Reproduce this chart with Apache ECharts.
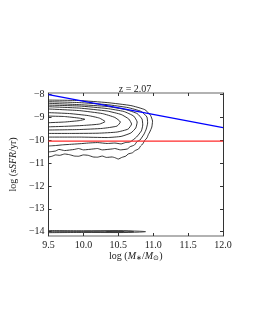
<!DOCTYPE html>
<html><head><meta charset="utf-8">
<script src="https://cdn.jsdelivr.net/npm/echarts@6/dist/echarts.min.js"></script>
<style>html,body{margin:0;padding:0;background:#fff}#c{width:255px;height:330px}</style>
</head><body><div id="c"></div>
<script>
var titleText = 'z = 2.07';
var xTicks = [9.5, 10.0, 10.5, 11.0, 11.5, 12.0];
var yTicks = [-14, -13, -12, -11, -10, -9, -8];
var blueLine = [[9.5, -8.0], [12.0, -9.45]];
var redLine = [[9.5, -10.04], [12.0, -10.04]];
var contour1 = [[9.5,-8.94],[9.73,-8.96],[9.94,-9.03],[10.02,-9.08],[9.94,-9.14],[9.73,-9.20],[9.5,-9.23]];
var contour2 = [[9.5,-8.79],[9.80,-8.83],[10.07,-8.92],[10.23,-9.03],[10.31,-9.18],[10.23,-9.29],[10.0,-9.35],[9.73,-9.39],[9.5,-9.41]];
var contour3 = [[9.5,-8.63],[9.94,-8.70],[10.27,-8.83],[10.45,-9.0],[10.53,-9.2],[10.48,-9.38],[10.27,-9.48],[9.94,-9.53],[9.5,-9.55]];
var contour4 = [[9.5,-8.53],[9.94,-8.59],[10.34,-8.72],[10.54,-8.87],[10.65,-9.07],[10.69,-9.29],[10.64,-9.51],[10.48,-9.64],[10.21,-9.69],[9.80,-9.70],[9.5,-9.70]];
var contour5 = [[9.5,-8.46],[9.94,-8.50],[10.34,-8.61],[10.58,-8.74],[10.72,-8.94],[10.77,-9.2],[10.75,-9.46],[10.68,-9.68],[10.54,-9.83],[10.34,-9.88],[9.94,-9.86],[9.5,-9.86]];
var contour6 = [[9.5,-8.38],[9.94,-8.44],[10.34,-8.52],[10.61,-8.66],[10.77,-8.83],[10.84,-9.07],[10.85,-9.33],[10.83,-9.59],[10.76,-9.86],[10.67,-10.07],[10.6,-10.1],[10.54,-10.16],[10.45,-10.12],[10.34,-10.14],[10.2,-10.1],[10.07,-10.12],[9.95,-10.15],[9.80,-10.18],[9.7,-10.2],[9.60,-10.23],[9.5,-10.25]];
var contour7 = [[9.5,-8.31],[9.94,-8.35],[10.34,-8.44],[10.64,-8.57],[10.83,-8.74],[10.91,-8.98],[10.92,-9.24],[10.90,-9.51],[10.87,-9.72],[10.81,-9.99],[10.77,-10.05],[10.73,-10.21],[10.67,-10.28],[10.63,-10.38],[10.53,-10.42],[10.45,-10.36],[10.41,-10.38],[10.27,-10.42],[10.2,-10.36],[10.14,-10.38],[10.0,-10.42],[9.93,-10.36],[9.87,-10.40],[9.73,-10.45],[9.65,-10.40],[9.60,-10.47],[9.5,-10.51]];
var contour8 = [[9.5,-8.24],[9.94,-8.26],[10.34,-8.35],[10.68,-8.48],[10.88,-8.66],[10.96,-8.90],[10.99,-9.16],[10.98,-9.42],[10.95,-9.64],[10.93,-9.75],[10.91,-9.90],[10.88,-10.0],[10.85,-10.16],[10.82,-10.25],[10.79,-10.38],[10.74,-10.45],[10.70,-10.55],[10.64,-10.6],[10.61,-10.69],[10.55,-10.75],[10.50,-10.82],[10.45,-10.76],[10.41,-10.73],[10.33,-10.75],[10.27,-10.69],[10.2,-10.74],[10.14,-10.73],[10.07,-10.66],[10.0,-10.64],[9.93,-10.7],[9.87,-10.69],[9.8,-10.63],[9.73,-10.60],[9.66,-10.66],[9.60,-10.64],[9.55,-10.7],[9.5,-10.73]];
var blobA = [[9.5,-13.95],[10.0,-13.96],[10.5,-13.955],[10.8,-13.98],[10.89,-14.0],[10.8,-14.02],[10.5,-14.04],[10.0,-14.035],[9.5,-14.045]];
var blobB = [[9.5,-13.98],[10.0,-13.985],[10.6,-13.975],[10.72,-14.0],[10.6,-14.02],[10.0,-14.015],[9.5,-14.02]];
var blobC = [[10.33,-14.0],[10.45,-13.98],[10.58,-14.0],[10.45,-14.02],[10.33,-14.0]];

var contours = [contour1, contour2, contour3, contour4, contour5, contour6, contour7, contour8];
var blobs = [blobA, blobB, blobC];
var font = 'Liberation Serif';
var chart = echarts.init(document.getElementById('c'), null, {renderer: 'canvas'});
var series = [];
contours.forEach(function (c) {
  series.push({type: 'line', data: c, showSymbol: false, smooth: 0.15, silent: true,
    lineStyle: {color: '#1e1e1e', width: 0.9}, z: 2});
});
blobs.forEach(function (c) {
  series.push({type: 'line', data: c, showSymbol: false, smooth: 0.3, silent: true,
    lineStyle: {color: '#333', width: 0.9}, z: 2});
});
series.push({type: 'line', data: blueLine, showSymbol: false, silent: true, lineStyle: {color: '#0000ff', width: 1.3}, z: 3});
series.push({type: 'line', data: redLine, showSymbol: false, silent: true, lineStyle: {color: '#ff2a2a', width: 1.3}, z: 3});

var yMin = -14.19, yMax = -7.93;
chart.setOption({
  animation: false,
  backgroundColor: '#fff',
  title: {text: titleText, left: 130, top: 79, textAlign: 'center',
    textStyle: {fontFamily: font, fontSize: 10, fontWeight: 'normal', color: '#222'}},
  grid: {left: 38, right: 32, top: 93, bottom: 94},
  xAxis: [{
    type: 'value', min: 9.5, max: 12.0, interval: 0.5, position: 'bottom',
    axisLine: {lineStyle: {color: '#999', width: 1.5}},
    axisTick: {inside: true, length: 3, lineStyle: {color: '#333'}},
    axisLabel: {fontFamily: font, fontSize: 10, color: '#222', margin: 4,
      formatter: function (v) { return v.toFixed(1); }},
    splitLine: {show: false},
    name: '{n|log (}{i|M}{s|∗}{n|/}{i|M}{s|⊙}{n|)}', nameLocation: 'middle', nameGap: 15,
    nameTextStyle: {rich: {
      n: {fontFamily: font, fontSize: 10, color: '#222'},
      i: {fontFamily: font, fontSize: 10, fontStyle: 'italic', color: '#222'},
      s: {fontFamily: font, fontSize: 7, color: '#222', verticalAlign: 'bottom', padding: [4, 0, 0, 0]}
    }}
  }, {
    type: 'value', min: 9.5, max: 12.0, interval: 0.5, position: 'top',
    axisLine: {lineStyle: {color: '#999', width: 1.5}},
    axisTick: {inside: true, length: 3, lineStyle: {color: '#333'}},
    axisLabel: {show: false}, splitLine: {show: false}
  }],
  yAxis: [{
    type: 'value', min: yMin, max: yMax, position: 'left',
    axisLine: {lineStyle: {color: '#333', width: 1}},
    axisTick: {inside: true, length: 3, customValues: yTicks, lineStyle: {color: '#333'}},
    axisLabel: {fontFamily: font, fontSize: 10, color: '#222', margin: 4, customValues: yTicks,
      formatter: function (v) { return '\u2212' + Math.abs(v); }},
    splitLine: {show: false},
    name: '{n|log (}{i|sSFR}{n|/yr)}', nameLocation: 'middle', nameGap: 25, nameRotate: 90,
    nameTextStyle: {rich: {
      n: {fontFamily: font, fontSize: 10, color: '#222'},
      i: {fontFamily: font, fontSize: 10, fontStyle: 'italic', color: '#222'}
    }}
  }, {
    type: 'value', min: yMin, max: yMax, position: 'right',
    axisLine: {show: true, lineStyle: {color: '#333', width: 1}},
    axisTick: {show: true, inside: true, length: 3, customValues: yTicks, lineStyle: {color: '#333'}},
    axisLabel: {show: false}, splitLine: {show: false}
  }],
  series: series
});
</script></body></html>
